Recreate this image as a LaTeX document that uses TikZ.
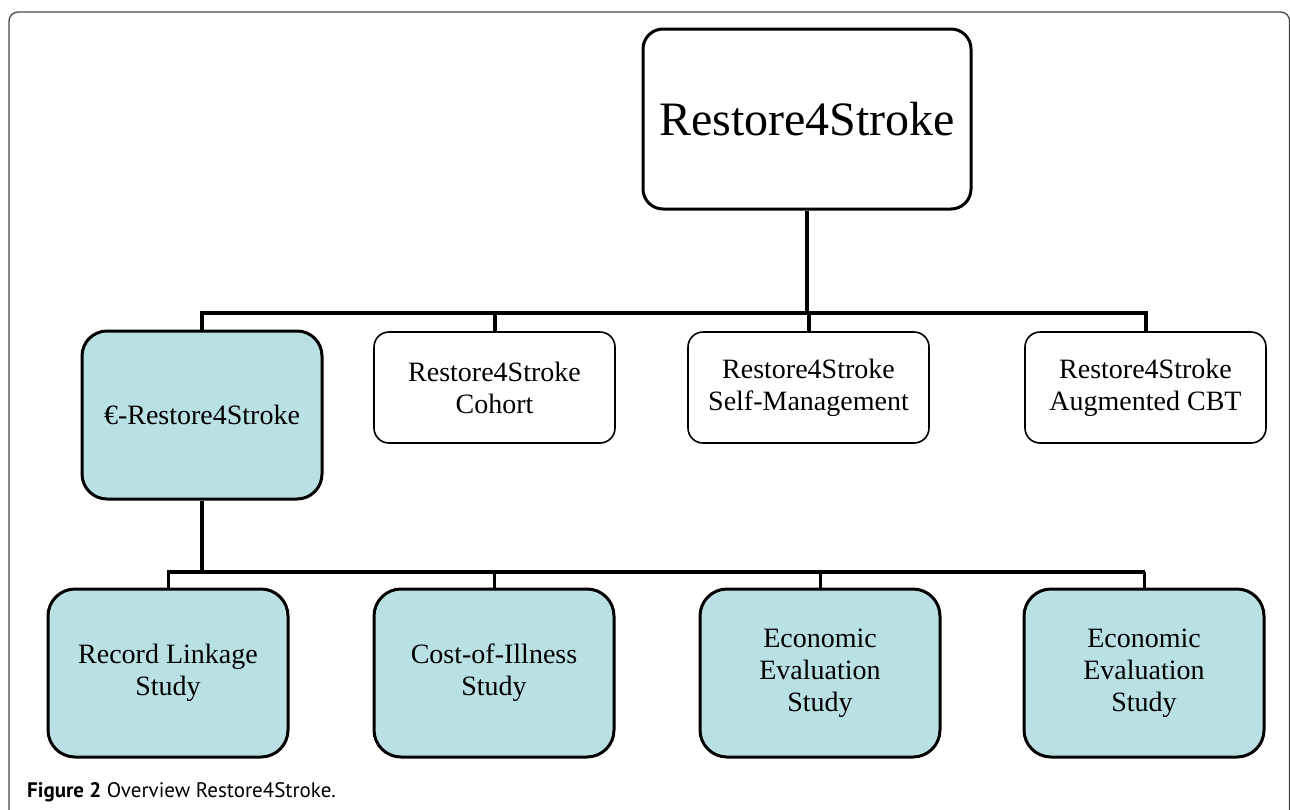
\documentclass[tikz,border=0pt]{standalone}
\usepackage{fontspec}
\setmainfont{Liberation Serif}
\newfontfamily\captionfont{PT Sans}
\definecolor{studyfill}{RGB}{185,224,227}
\definecolor{framegray}{RGB}{70,70,70}
\begin{document}
\begin{tikzpicture}[
        x=1pt, y=1pt,
        top/.style={rectangle, draw, line width=3pt, rounded corners=20pt, minimum width=328pt, minimum height=180pt, inner sep=0pt, font=\fontsize{48}{53}\selectfont},
        branch/.style={rectangle, draw, line width=1.6pt, rounded corners=15pt, minimum width=241pt, minimum height=111pt, inner sep=0pt, align=center, font=\fontsize{28}{32}\selectfont},
        study/.style={rectangle, draw, line width=3pt, fill=studyfill, rounded corners=27pt, minimum width=240pt, minimum height=168pt, inner sep=0pt, align=center, font=\fontsize{28}{32}\selectfont},
        link/.style={line width=4pt},
        sublink/.style={line width=3pt}
    ]
        \useasboundingbox (0,0) rectangle (1290,-809);

        % frame of the figure
        \draw[framegray, line width=1.3pt, rounded corners=9pt] (9,-820) -- (9,-12) -- (1289.6,-12) -- (1289.6,-820);

        % Level 0: the programme
        \node[top] (r4s_root) at (807,-119) {Restore4Stroke};

        % Level 1: the four projects
        \node[study, rounded corners=25pt] (r4s_euro) at (202,-415) {€-Restore4Stroke};
        \node[branch] (r4s_cohort) at (494.5,-387.5) {Restore4Stroke\\Cohort};
        \node[branch] (r4s_selfman) at (808.5,-387.5) {Restore4Stroke\\Self-Management};
        \node[branch] (r4s_cbt) at (1145.5,-387.5) {Restore4Stroke\\Augmented CBT};

        % Level 2: the studies of the economic project
        \node[study] (euro_linkage) at (168,-673) {Record Linkage\\Study};
        \node[study] (euro_illness) at (494,-673) {Cost-of-Illness\\Study};
        \node[study] (euro_eval1) at (820,-673) {Economic\\Evaluation\\Study};
        \node[study] (euro_eval2) at (1144,-673) {Economic\\Evaluation\\Study};

        % connectors
        \coordinate (r4s_bar) at (r4s_root.south |- 0,-313);
        \draw[link] (r4s_root.south) -- (r4s_bar);
        \foreach \child in {r4s_euro, r4s_cohort, r4s_selfman, r4s_cbt}
            \draw[link] (r4s_bar) -| (\child.north);

        \coordinate (euro_bar) at (r4s_euro.south |- 0,-572);
        \draw[link] (r4s_euro.south) -- (euro_bar);
        \draw[link] (euro_bar) -| ([xshift=-1pt]euro_linkage.north |- 0,-572);
        \draw[link] (euro_bar) -| ([xshift=1pt]euro_eval2.north |- 0,-572);
        \foreach \child in {euro_linkage, euro_illness, euro_eval1, euro_eval2}
            \draw[sublink] (\child.north |- euro_bar) -- (\child.north);

        % Caption
        \node[anchor=base west, inner sep=0pt, font=\captionfont\fontsize{21}{25}\selectfont] (caption) at (27,-797) {\textbf{Figure 2} Overview Restore4Stroke.};
    \end{tikzpicture}
\end{document}
